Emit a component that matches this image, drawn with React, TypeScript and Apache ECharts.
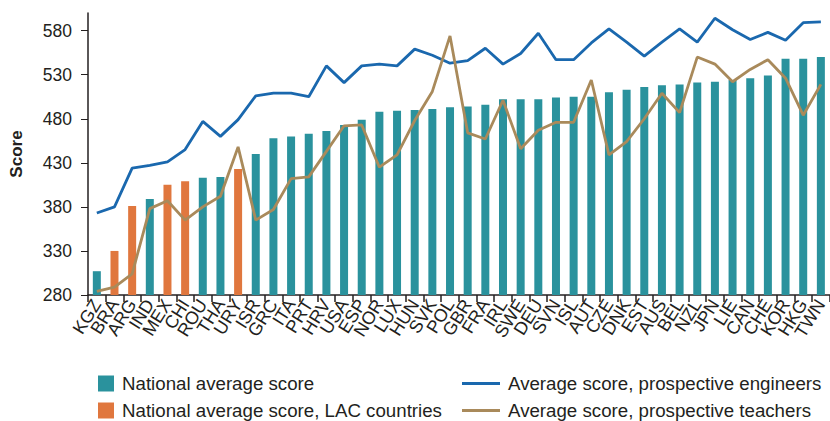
import React, { useEffect, useRef } from "react";
import * as echarts from "echarts";

const categories = [
  "KGZ", "BRA", "ARG", "IND", "MEX", "CHI", "ROU", "THA", "URY", "ISR", "GRC", "ITA",
  "PRT", "HRV", "USA", "ESP", "NOR", "LUX", "HUN", "SVK", "POL", "GBR", "FRA", "IRL",
  "SWE", "DEU", "SVN", "ISL", "AUT", "CZE", "DNK", "EST", "AUS", "BEL", "NZL", "JPN",
  "LIE", "CAN", "CHE", "KOR", "HKG", "TWN",
];

const lacCountries = ["BRA", "ARG", "MEX", "CHI", "URY"];

const nationalScore = [
  307, 330, 381, 389, 405, 409, 413, 414, 423, 440, 458, 460,
  463, 466, 473, 479, 488, 489, 490, 491, 493, 494, 496, 502,
  502, 502, 504, 505, 505, 510, 513, 516, 518, 519, 521, 522,
  524, 526, 529, 548, 548, 550,
];

const engineersScore = [
  373, 380, 424, 427, 431, 445, 477, 460, 479, 506, 509, 509,
  505, 540, 521, 540, 542, 540, 559, 552, 543, 546, 560, 542,
  554, 577, 547, 547, 566, 582, 567, 551, 567, 582, 567, 594,
  581, 570, 578, 569, 589, 590,
];

const teachersScore = [
  284, 289, 304, 378, 387, 365, 380, 392, 448, 365, 377, 412,
  414, 443, 472, 473, 425, 439, 478, 511, 574, 464, 457, 501,
  446, 467, 476, 476, 524, 439, 454, 480, 509, 487, 550, 542,
  522, 536, 547, 526, 484, 519,
];

const yTicks = [280, 330, 380, 430, 480, 530, 580];

const seriesNames = [
  "National average score",
  "National average score, LAC countries",
  "Average score, prospective engineers",
  "Average score, prospective teachers",
];

const TEXT = "#231f20";
const FONT = "'Liberation Sans', Arial, Helvetica, sans-serif";

export default function App() {
  const ref = useRef<HTMLDivElement>(null);

  useEffect(() => {
    if (!ref.current) return;
    const chart = echarts.init(ref.current, undefined, { renderer: "svg" });
    const nonLac = nationalScore.map((v, i) =>
      lacCountries.includes(categories[i]) ? "-" : v
    );
    const lac = nationalScore.map((v, i) =>
      lacCountries.includes(categories[i]) ? v : "-"
    );
    const legendText = { fontSize: 18.7, color: TEXT, fontFamily: FONT, padding: [0, 0, 0, 3] };
    const mkLegend = (name: string, left: number, top: number, line: boolean) => ({
      show: true,
      left,
      top,
      padding: 0,
      orient: "horizontal",
      itemWidth: line ? 38 : 16,
      itemHeight: line ? 3 : 16,
      icon: "rect",
      textStyle: legendText,
      data: [name],
    });
    chart.setOption({
      animation: false,
      textStyle: { fontFamily: FONT, color: TEXT },
      grid: { left: 86.5, right: -6, top: 13, bottom: 126 },
      legend: [
        mkLegend(seriesNames[0], 98, 374, false),
        mkLegend(seriesNames[1], 98, 401, false),
        mkLegend(seriesNames[2], 462, 374, true),
        mkLegend(seriesNames[3], 462, 401, true),
      ],
      xAxis: {
        type: "category",
        data: categories,
        boundaryGap: true,
        axisLine: { lineStyle: { color: TEXT, width: 1.5 } },
        axisTick: { show: true, length: 7, lineStyle: { color: TEXT, width: 1.5 } },
        axisLabel: {
          interval: 0,
          rotate: 58,
          fontSize: 18,
          color: TEXT,
          fontFamily: FONT,
          margin: 6,
        },
      },
      yAxis: {
        type: "value",
        min: 280,
        max: 600,
        name: "Score",
        nameLocation: "middle",
        nameGap: 63,
        nameTextStyle: { fontSize: 17, fontWeight: "bold", color: TEXT, fontFamily: FONT },
        splitLine: { show: false },
        axisLine: { show: true, lineStyle: { color: TEXT, width: 1.5 } },
        axisTick: { show: true, length: 7, customValues: yTicks, lineStyle: { color: TEXT, width: 1 } },
        axisLabel: { fontSize: 17.5, color: TEXT, fontFamily: FONT, margin: 16, customValues: yTicks },
      },
      series: [
        {
          name: seriesNames[0],
          type: "bar",
          data: nonLac,
          barWidth: 8,
          barGap: "-100%",
          itemStyle: { color: "#2a929d" },
        },
        {
          name: seriesNames[1],
          type: "bar",
          data: lac,
          barWidth: 8,
          barGap: "-100%",
          itemStyle: { color: "#e0773e" },
        },
        {
          name: seriesNames[2],
          type: "line",
          data: engineersScore,
          symbol: "none",
          lineStyle: { color: "#1a68ae", width: 2.8 },
          itemStyle: { color: "#1a68ae" },
        },
        {
          name: seriesNames[3],
          type: "line",
          data: teachersScore,
          symbol: "none",
          lineStyle: { color: "#a98a5b", width: 2.8 },
          itemStyle: { color: "#a98a5b" },
        },
      ],
    });
    return () => chart.dispose();
  }, []);

  return <div ref={ref} style={{ width: 830, height: 421, position: "absolute", left: 0, top: 0 }} />;
}
